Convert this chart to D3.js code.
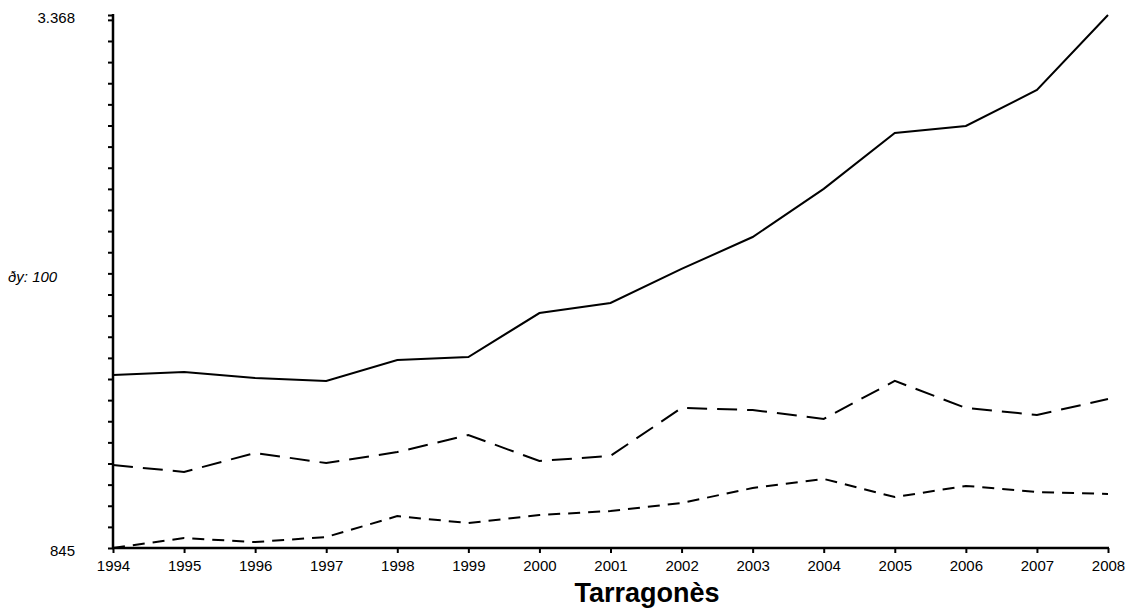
<!DOCTYPE html>
<html>
<head>
<meta charset="utf-8">
<script src="https://cdn.jsdelivr.net/npm/d3@7"></script>
<style>
  html, body { margin: 0; padding: 0; background: #fff; }
  svg { display: block; font-family: "Liberation Sans", Arial, sans-serif; }
</style>
</head>
<body>
<svg id="chart" width="1129" height="609"></svg>
<script>
const years = [1994,1995,1996,1997,1998,1999,2000,2001,2002,2003,2004,2005,2006,2007,2008];
const seriesSolid = [1664,1678,1650,1636,1735,1749,1957,2005,2166,2317,2545,2810,2843,3013,3368];
const seriesLongDash = [1238,1205,1295,1247,1299,1380,1257,1281,1508,1498,1456,1636,1508,1475,1550];
const seriesShortDash = [845,892,873,897,996,963,1001,1020,1058,1129,1172,1086,1139,1110,1101];
const yMin = 845, yMax = 3368;
const yStep = 100;
const yLabelTicks = ["845", "3.368"];
const yAxisLabel = "ðy: 100";
const title = "Tarragonès";

(function () {
const svg = d3.select("#chart");
const mLeft = 113, mRight = 1108, mTop = 15, mBottom = 548;

const x = d3.scaleLinear().domain([years[0], years[years.length-1]]).range([mLeft, mRight]);
const y = d3.scaleLinear().domain([yMin, yMax]).range([mBottom, mTop]);

// y ticks
const yTicks = d3.range(yMin, yMax, yStep).concat([yMax]);
const yAxis = d3.axisLeft(y).tickValues(yTicks).tickSize(5).tickFormat("");
const gy = svg.append("g").attr("transform", `translate(${mLeft},0)`).call(yAxis);
gy.select(".domain").remove();
gy.selectAll(".tick line").attr("stroke", "#000").attr("stroke-width", 2);
gy.append("line").attr("x1", 0).attr("x2", 0).attr("y1", mTop - 1).attr("y2", mBottom + 1)
  .attr("stroke", "#000").attr("stroke-width", 2.5);

// y end labels
svg.append("text").attr("x", 75).attr("y", y(yMin) + 8)
  .attr("text-anchor", "end").attr("font-size", 15).text(yLabelTicks[0]);
svg.append("text").attr("x", 75).attr("y", y(yMax) + 8)
  .attr("text-anchor", "end").attr("font-size", 15).text(yLabelTicks[1]);

svg.append("text").attr("x", 8).attr("y", 282)
  .attr("font-size", 15).attr("font-style", "italic").text(yAxisLabel);

// x axis
const xAxis = d3.axisBottom(x).tickValues(years).tickSize(5).tickFormat(d3.format("d"));
const gx = svg.append("g").attr("transform", `translate(0,${mBottom})`).call(xAxis);
gx.select(".domain").remove();
gx.selectAll(".tick line").attr("stroke", "#000").attr("stroke-width", 2);
gx.selectAll(".tick text").attr("font-size", 15).attr("fill", "#000")
  .attr("font-family", "Liberation Sans, Arial, sans-serif").attr("y", 23).attr("dy", null);
gx.append("line").attr("x1", mLeft - 1).attr("x2", mRight + 1).attr("y1", 0).attr("y2", 0)
  .attr("stroke", "#000").attr("stroke-width", 2.5);

// lines
const line = d3.line().x((d, i) => x(years[i])).y(d => y(d));
svg.append("path").datum(seriesSolid).attr("d", line)
  .attr("fill", "none").attr("stroke", "#000").attr("stroke-width", 2);
svg.append("path").datum(seriesLongDash).attr("d", line)
  .attr("fill", "none").attr("stroke", "#000").attr("stroke-width", 2)
  .attr("stroke-dasharray", "20,10");
svg.append("path").datum(seriesShortDash).attr("d", line)
  .attr("fill", "none").attr("stroke", "#000").attr("stroke-width", 2)
  .attr("stroke-dasharray", "12,8");

// title
svg.append("text").attr("x", 647).attr("y", 602).attr("text-anchor", "middle")
  .attr("font-size", 27).attr("font-weight", "bold").text(title);
})();
</script>
</body>
</html>
